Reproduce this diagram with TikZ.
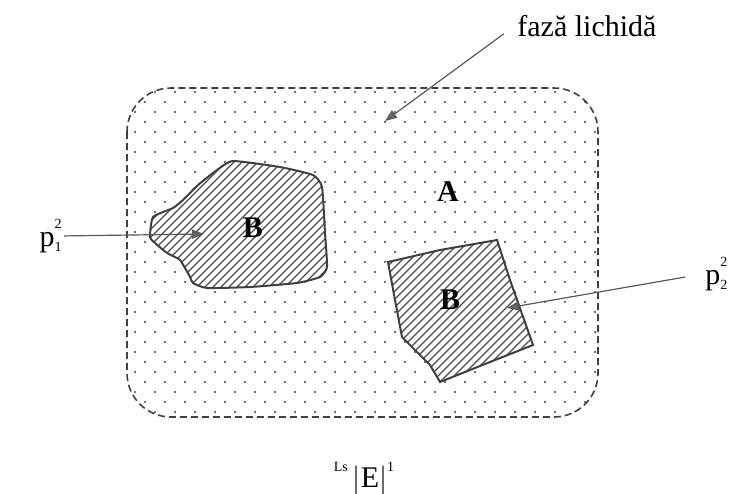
\documentclass[tikz,border=0pt]{standalone}
\usepackage{fontspec}
\setmainfont{Liberation Serif}
\usetikzlibrary{calc, positioning}
\usetikzlibrary{arrows.meta}

\tikzset{
  lbl/.style={font=\fontsize{15}{18}\selectfont, inner sep=1pt},
  ptr/.style={black!65, line width=0.6pt,
    -{Triangle[length=6pt,width=4.5pt,fill=black!60]}},
  rim/.style={black!75, line width=1pt},
}
% stacked upper and lower indices
\newcommand{\pidx}[2]{\raisebox{-2.5pt}{\scriptsize\shortstack[l]{#1\\[3.5pt]#2}}}

\begin{document}
\begin{tikzpicture}[x=0.5pt,y=-0.5pt]
\useasboundingbox (0,0) rectangle (732,493);

% liquid phase region: dotted, dashed rounded border
\begin{scope}
  \clip[rounded corners=22pt] (127,88) rectangle (598,417);
  \foreach \r in {0,...,33} {
    \pgfmathsetmacro{\yy}{92+10*\r}
    \pgfmathsetmacro{\sh}{mod(\r,2)*10}
    \foreach \c in {0,...,23} {
      \fill[black!75] ({135+\sh+20*\c},\yy) circle (0.6pt);
    }
  }
\end{scope}
\draw[black!75, line width=0.8pt, dash pattern=on 3.5pt off 2pt,
  rounded corners=22pt] (127,88) rectangle (598,417);

% first solid particle B
\def\blobone{(233,161) (280,167) (313,175) (322,187) (325,233) (327,267)
  (320,277) (297,283) (250,287) (207,288) (193,283) (190,277) (180,260)
  (167,253) (155,243) (150,237) (153,217) (173,208) (183,200) (198,185)
  (217,170)}
\fill[white] plot[smooth cycle, tension=0.3] coordinates {\blobone};
\begin{scope}
  \clip plot[smooth cycle, tension=0.3] coordinates {\blobone};
  \foreach \k in {-200,-192,...,340}
    \draw[black!70, line width=0.55pt] (\k,300) -- ++(200,-200);
\end{scope}
\draw[rim] plot[smooth cycle, tension=0.3] coordinates {\blobone};

% second solid particle B
\def\blobtwo{(388,262) (440,250) (497,240) (510,280) (533,345) (490,362)
  (440,382) (430,365) (402,337) (395,300)}
\fill[white] plot[sharp cycle] coordinates {\blobtwo};
\begin{scope}
  \clip plot[sharp cycle] coordinates {\blobtwo};
  \foreach \k in {150,158,...,560}
    \draw[black!70, line width=0.55pt] (\k,400) -- ++(200,-200);
\end{scope}
\draw[rim] plot[sharp cycle] coordinates {\blobtwo};

% labels inside
\node[lbl, font=\fontsize{15}{18}\selectfont\bfseries] (phA) at (448,192) {A};
\node[lbl, font=\fontsize{15}{18}\selectfont\bfseries] (phB1) at (253,228) {B};
\node[lbl, font=\fontsize{15}{18}\selectfont\bfseries] (phB2) at (450,300) {B};

% pointers
\coordinate (fazatip) at (385,121);
\coordinate (p1tip) at (204,234);
\coordinate (p2tip) at (507,308);

\node[lbl, anchor=base west] (faza) at (515,36) {fază lichidă};
\node[lbl, anchor=base east] (p1) at (64,246) {p\pidx{2}{1}};
\node[lbl, anchor=base west] (p2) at (703,284) {p\pidx{2}{2}};

\draw[ptr, shorten <=7pt] (faza.west) -- (fazatip);
\draw[ptr] (p1.east) -- (p1tip);
\draw[ptr, shorten <=9pt] (p2.west) -- (p2tip);

% bottom label
\node[lbl] (elbl) at (364,478)
  {\raisebox{8pt}{\scriptsize Ls}\,$\Big|$E$\Big|$\raisebox{8pt}{\scriptsize 1}};
\end{tikzpicture}
\end{document}
